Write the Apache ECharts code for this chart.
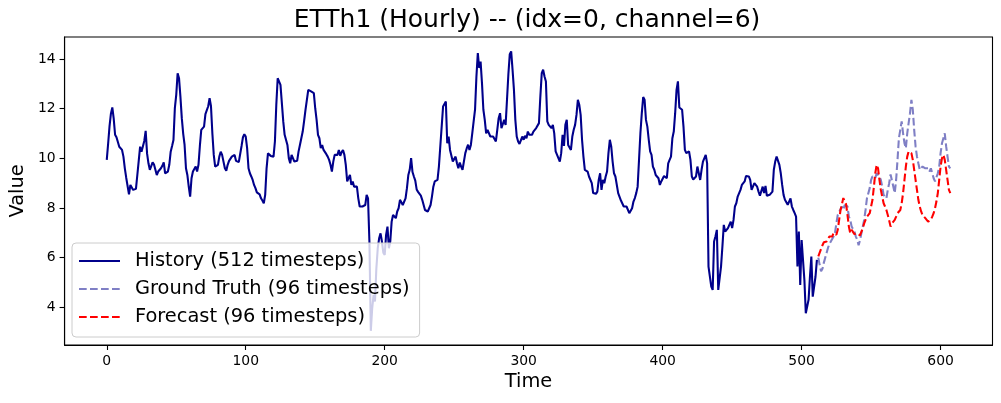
<!DOCTYPE html>
<html>
<head>
<meta charset="utf-8">
<script src="https://cdn.jsdelivr.net/npm/echarts@6/dist/echarts.min.js"></script>
<style>
html,body{margin:0;padding:0;background:#fff;}
#chart{width:1001px;height:403px;}
</style>
</head>
<body>
<div id="chart"></div>
<script>
const historyValues = [
9.94,10.6,11.3,11.8,12.05,11.6,10.95,10.85,10.81,10.47,
10.4,10.34,10.07,9.6,9.22,9.2,8.55,8.93,8.93,8.73,
8.75,8.77,9.33,9.9,10.47,10.27,10.3,10.7,11.11,10.2,
9.8,9.54,9.47,9.84,9.75,9.67,9.33,9.47,9.54,9.6,
9.7,9.84,9.4,9.45,9.47,9.74,10.27,10.5,10.74,12.02,
12.56,13.43,13.23,12.49,11.62,11.0,10.54,9.6,9.33,8.86,
8.46,9.2,9.47,9.55,9.67,9.47,9.74,10.5,11.15,11.22,
11.28,11.78,11.72,12.1,12.43,12.1,11.0,10.14,9.67,9.7,
9.74,10.07,10.27,10.14,9.87,9.6,9.5,9.74,9.9,9.87,
10.07,10.0,10.14,9.9,9.9,9.85,9.9,10.5,10.85,10.97,
10.88,10.41,9.6,9.4,9.27,9.13,8.93,8.8,8.63,8.58,
8.55,8.39,8.3,8.19,8.53,9.6,10.2,10.2,10.1,10.14,
10.07,10.68,12.16,13.23,13.26,12.96,13.0,11.49,10.95,11.01,
10.54,10.01,9.8,10.14,10.14,9.87,9.94,9.9,10.27,10.54,
10.81,11.08,11.5,11.95,12.02,12.76,12.83,12.7,12.66,12.63,
12.02,11.55,10.95,10.81,10.41,10.54,10.34,10.27,10.17,10.07,
9.94,9.74,9.47,9.87,10.14,10.21,10.14,10.34,10.1,10.25,
10.34,10.14,9.74,9.07,9.0,9.33,8.93,9.07,8.86,8.8,
8.86,8.39,8.06,8.06,8.06,8.12,8.12,8.53,8.39,6.65,
3.05,3.96,4.5,4.23,5.57,6.38,6.78,6.98,6.65,6.2,
6.11,6.92,7.25,6.38,6.65,7.45,7.72,7.75,7.59,7.86,
7.99,8.33,8.26,8.12,8.06,8.39,8.8,9.33,9.54,10.01,
9.45,9.27,9.1,8.75,8.65,8.7,8.5,8.33,8.26,7.92,
7.86,7.86,7.99,8.12,8.46,8.86,9.07,9.07,9.13,9.67,
10.48,11.28,12.09,12.16,12.29,10.61,10.88,10.34,10.28,9.87,
9.94,10.07,9.8,9.6,9.83,9.67,9.54,9.6,10.21,10.4,
10.55,10.34,10.54,11.01,11.49,11.96,13.3,14.24,13.64,13.9,
13.03,11.96,11.55,11.01,11.15,11.22,10.88,10.95,10.88,10.81,
10.68,11.15,11.62,11.82,11.22,11.28,11.55,11.35,12.36,13.4,
14.2,14.31,13.57,12.76,11.55,10.88,10.68,10.58,10.64,10.88,
10.75,10.91,10.81,11.08,10.95,10.88,10.95,11.08,11.15,11.22,
11.28,11.42,12.49,13.43,13.57,13.3,13.1,11.49,11.35,11.28,
11.22,11.35,11.01,10.28,10.21,10.01,9.87,10.21,10.95,10.5,
11.35,11.55,10.54,10.48,10.34,10.88,11.15,11.35,11.75,12.36,
12.16,11.75,10.75,10.07,9.54,9.47,9.47,9.27,9.29,9.0,
8.6,8.53,8.57,8.66,9.13,9.4,8.73,9.13,9.0,9.27,
9.47,10.21,10.75,10.48,9.87,9.4,9.27,9.2,8.6,8.53,
8.3,8.26,8.06,8.06,8.06,7.99,7.79,7.76,7.99,8.26,
8.4,8.6,8.86,9.94,11.02,11.82,12.47,12.36,11.55,11.28,
10.75,10.28,10.14,9.67,9.54,9.33,9.27,9.2,8.93,9.07,
9.08,9.29,9.27,9.2,9.8,9.94,10.07,10.81,11.08,11.82,
12.76,13.1,12.05,12.02,11.96,11.28,10.34,10.21,10.14,10.28,
9.94,9.27,9.15,9.07,9.27,9.67,9.4,9.13,9.54,9.87,
9.94,10.14,9.8,5.64,5.64,4.83,4.7,6.65,6.85,7.12,
4.7,4.63,5.64,6.45,7.32,7.05,7.12,7.19,7.25,7.45,
7.19,7.52,8.06,8.19,8.46,8.53,8.73,8.93,8.86,9.07,
9.29,9.27,9.27,9.13,8.73,8.8,9.0,9.0,8.86,8.66,
8.5,8.43,8.86,8.6,8.89,8.49,8.46,8.53,8.49,8.66,
9.54,9.87,10.07,10.01,9.74,9.4,8.93,8.53,8.33,8.26,
8.13,8.26,8.39,8.06,7.92,7.79,7.65,5.64,7.05,4.9,
6.71,6.78,5.1,3.76,3.69,4.3,5.24,6.04,4.43,4.83,
5.24,5.91
];
const groundTruthValues = [
6.0,5.7,5.45,5.55,5.8,6.0,6.2,6.4,6.55,6.65,
6.71,6.85,7.0,7.38,7.72,7.79,7.95,8.06,7.92,8.12,
8.06,8.06,7.65,7.52,7.25,7.25,7.05,6.85,6.72,6.5,
6.7,6.98,7.25,7.52,7.92,8.39,8.46,8.8,9.13,9.27,
9.33,9.2,9.4,9.4,9.27,9.13,8.86,8.53,8.46,8.39,
8.73,9.0,9.35,9.4,8.86,8.6,9.13,9.94,10.81,11.15,
11.49,11.01,10.61,10.41,11.01,11.42,11.82,12.36,11.96,11.15,
10.48,10.07,9.8,9.54,9.6,9.67,9.74,9.6,9.54,9.6,
9.47,9.6,9.4,9.2,9.07,9.13,9.4,9.67,10.21,10.61,
10.81,11.01,10.48,10.07,9.67,9.6
];
const forecastValues = [
6.05,6.2,6.28,6.5,6.62,6.65,6.65,6.71,6.85,6.8,
6.85,7.0,6.95,6.92,7.12,7.52,7.92,8.15,8.4,8.42,
8.15,7.72,7.25,6.98,7.12,7.05,6.95,6.92,6.98,6.92,
6.9,6.98,7.18,7.38,7.52,7.65,7.72,7.79,7.72,8.33,
8.86,9.4,9.74,9.6,9.13,8.73,8.46,8.19,8.06,7.92,
7.72,7.5,7.25,7.38,7.45,7.52,7.65,7.79,7.86,7.92,
8.19,8.6,9.13,9.67,10.07,10.28,10.34,10.21,9.94,9.54,
9.13,8.73,8.33,8.06,7.86,7.72,7.65,7.59,7.52,7.45,
7.4,7.52,7.65,7.79,7.99,8.26,8.6,9.13,9.67,10.01,
10.14,9.94,9.54,9.13,8.73,8.6
];
const xTickValues = [0, 100, 200, 300, 400, 500, 600];
const yTickValues = [4, 6, 8, 10, 12, 14];
const titleText = 'ETTh1 (Hourly) -- (idx=0, channel=6)';
const seriesNames = ['History (512 timesteps)', 'Ground Truth (96 timesteps)', 'Forecast (96 timesteps)'];

const historyStart = 0;
const futureStart = historyValues.length;
const toPairs = (arr, start) => arr.map((v, i) => [start + i, v]);

const FONT = 'DejaVu Sans';
const chart = echarts.init(document.getElementById('chart'), null, {renderer: 'canvas'});
chart.setOption({
  animation: false,
  backgroundColor: '#ffffff',
  title: {
    text: titleText,
    left: 527,
    top: 8,
    padding: 0,
    textAlign: 'center',
    textStyle: {fontFamily: FONT, fontSize: 25, fontWeight: 'normal', color: '#000'}
  },
  grid: {
    left: 62, right: 8.5, top: 37, bottom: 58,
    show: true, borderColor: '#000', borderWidth: 1.1, backgroundColor: 'transparent'
  },
  legend: {
    orient: 'vertical',
    left: 72, top: 243,
    padding: [7, 10, 9, 6],
    itemGap: 6,
    itemWidth: 41, itemHeight: 14,
    itemStyle: {opacity: 0},
    backgroundColor: 'rgba(255,255,255,0.8)',
    borderColor: '#cccccc', borderWidth: 1, borderRadius: 4,
    textStyle: {fontFamily: FONT, fontSize: 19.4, color: '#000', lineHeight: 22, padding: [0, 0, 0, 10]},
    data: seriesNames
  },
  xAxis: {
    type: 'value',
    min: -30.35, max: 637.35,
    name: 'Time', nameLocation: 'middle', nameGap: 27,
    nameTextStyle: {fontFamily: FONT, fontSize: 19.4, color: '#000'},
    splitLine: {show: false},
    axisLine: {show: true, onZero: false, lineStyle: {color: '#000', width: 1.1}},
    axisTick: {show: true, length: 5, inside: false, customValues: xTickValues, lineStyle: {color: '#000', width: 1.1}},
    axisLabel: {customValues: xTickValues, margin: 9, fontFamily: FONT, fontSize: 13.9, color: '#000'}
  },
  yAxis: {
    type: 'value',
    min: 2.48, max: 14.89,
    name: 'Value', nameLocation: 'middle', nameGap: 35, nameRotate: 90,
    nameTextStyle: {fontFamily: FONT, fontSize: 19.4, color: '#000'},
    splitLine: {show: false},
    axisLine: {show: true, onZero: false, lineStyle: {color: '#000', width: 1.1}},
    axisTick: {show: true, length: 5, inside: false, customValues: yTickValues, lineStyle: {color: '#000', width: 1.1}},
    axisLabel: {customValues: yTickValues, margin: 9, fontFamily: FONT, fontSize: 13.9, color: '#000'}
  },
  series: [
    {
      name: seriesNames[0], type: 'line', data: toPairs(historyValues, historyStart),
      symbol: 'none', showSymbol: false, smooth: false,
      lineStyle: {color: '#00008b', width: 2.08}, itemStyle: {color: '#00008b'}, z: 2
    },
    {
      name: seriesNames[1], type: 'line', data: toPairs(groundTruthValues, futureStart),
      symbol: 'none', showSymbol: false,
      lineStyle: {color: 'rgba(0,0,139,0.5)', width: 2.08, type: [7.7, 3.3]}, itemStyle: {color: 'rgba(0,0,139,0.5)'}, z: 3
    },
    {
      name: seriesNames[2], type: 'line', data: toPairs(forecastValues, futureStart),
      symbol: 'none', showSymbol: false,
      lineStyle: {color: '#ff0000', width: 2.08, type: [7.7, 3.3]}, itemStyle: {color: '#ff0000'}, z: 4
    }
  ]
});
</script>
</body>
</html>
